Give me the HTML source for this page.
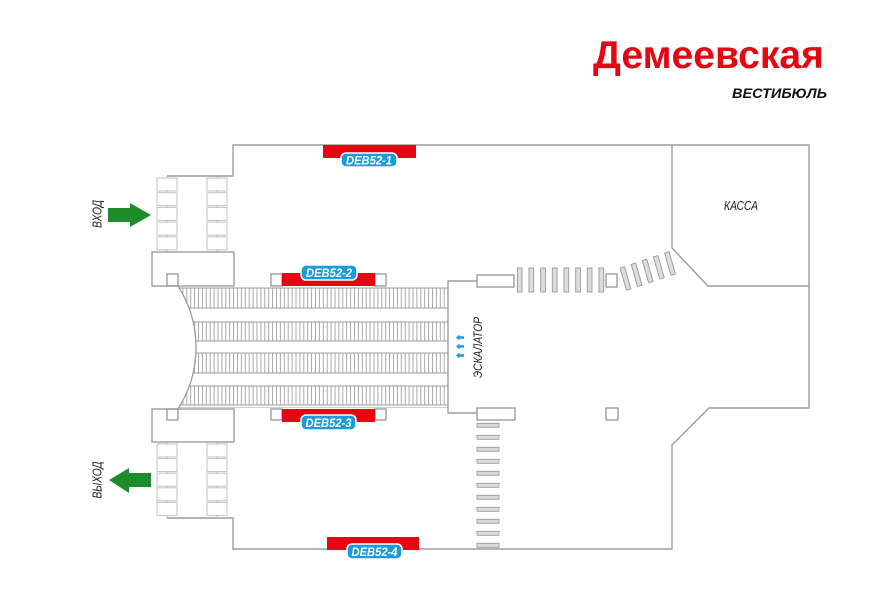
<!DOCTYPE html>
<html><head><meta charset="utf-8"><style>
html,body{margin:0;padding:0;background:#fff;}
svg{display:block;}
</style></head><body>
<svg width="878" height="604" viewBox="0 0 878 604" xmlns="http://www.w3.org/2000/svg">
<defs>
<pattern id="hatch" x="178" y="0" width="3.9" height="10" patternUnits="userSpaceOnUse">
<line x1="1" y1="0" x2="1" y2="10" stroke="#a0a0a0" stroke-width="0.9"/>
</pattern>
<clipPath id="arcclip">
<path d="M178,287 A114,114 0 0 1 178,408 L448,408 L448,287 Z"/>
</clipPath>
</defs>
<rect width="878" height="604" fill="#fff"/>

<!-- Title -->
<text x="593" y="68" font-family="Liberation Sans, sans-serif" font-weight="bold" font-size="39" fill="#e30613" textLength="231" lengthAdjust="spacingAndGlyphs">Демеевская</text>
<text x="732" y="98" font-family="Liberation Sans, sans-serif" font-weight="bold" font-style="italic" font-size="14" fill="#111" textLength="95" lengthAdjust="spacingAndGlyphs">ВЕСТИБЮЛЬ</text>

<g fill="none" stroke="#9c9c9c" stroke-width="1.4">
<path d="M167,176 L233,176 L233,145 L809,145 L809,408 L709,408 L672,445 L672,549 L233,549 L233,518 L167,518"/>
<path d="M672,145 L672,248 L708,286 L809,286"/>
<rect x="152" y="252" width="82" height="34"/>
<rect x="167" y="274" width="11" height="12"/>
<rect x="152" y="409" width="82" height="33"/>
<rect x="167" y="409" width="11" height="11"/>
<path d="M477,281 L448,281 L448,413 L477,413"/>
<rect x="477" y="275" width="37" height="12"/>
<rect x="477" y="408" width="38" height="12"/>
<rect x="606" y="274" width="11" height="13"/>
<rect x="606" y="408" width="12" height="12"/>
<rect x="271" y="274" width="11" height="12"/>
<rect x="375" y="274" width="11" height="12"/>
<rect x="271" y="409" width="11" height="11"/>
<rect x="375" y="409" width="11" height="11"/>
</g>

<g stroke="#b5b5b5" stroke-width="1">
<line x1="167" y1="176" x2="167" y2="252"/>
<line x1="217" y1="176" x2="217" y2="252"/>
<line x1="167" y1="442" x2="167" y2="518"/>
<line x1="217" y1="442" x2="217" y2="518"/>
</g>
<g fill="#fff" stroke="#c2c2c2" stroke-width="1">
<rect x="157" y="178" width="20" height="13"/><rect x="157" y="192.7" width="20" height="13"/><rect x="157" y="207.4" width="20" height="13"/><rect x="157" y="222.1" width="20" height="13"/><rect x="157" y="236.8" width="20" height="13"/>
<rect x="207" y="178" width="20" height="13"/><rect x="207" y="192.7" width="20" height="13"/><rect x="207" y="207.4" width="20" height="13"/><rect x="207" y="222.1" width="20" height="13"/><rect x="207" y="236.8" width="20" height="13"/>
<rect x="157" y="444" width="20" height="13"/><rect x="157" y="458.6" width="20" height="13"/><rect x="157" y="473.2" width="20" height="13"/><rect x="157" y="487.8" width="20" height="13"/><rect x="157" y="502.4" width="20" height="13"/>
<rect x="207" y="444" width="20" height="13"/><rect x="207" y="458.6" width="20" height="13"/><rect x="207" y="473.2" width="20" height="13"/><rect x="207" y="487.8" width="20" height="13"/><rect x="207" y="502.4" width="20" height="13"/>
</g>

<g clip-path="url(#arcclip)">
<rect x="170" y="288" width="277" height="20" fill="url(#hatch)"/>
<rect x="170" y="322" width="277" height="19" fill="url(#hatch)"/>
<rect x="170" y="353" width="277" height="20" fill="url(#hatch)"/>
<rect x="170" y="386" width="277" height="19" fill="url(#hatch)"/>
<g stroke="#9c9c9c" stroke-width="1">
<line x1="170" y1="288" x2="448" y2="288"/>
<line x1="170" y1="308" x2="448" y2="308"/>
<line x1="170" y1="322" x2="448" y2="322"/>
<line x1="170" y1="341" x2="448" y2="341"/>
<line x1="170" y1="353" x2="448" y2="353"/>
<line x1="170" y1="373" x2="448" y2="373"/>
<line x1="170" y1="386" x2="448" y2="386"/>
<line x1="170" y1="405" x2="448" y2="405"/>
<line x1="170" y1="408" x2="448" y2="408"/>
</g>
</g>
<path d="M178,286 A114,114 0 0 1 178,409" fill="none" stroke="#9c9c9c" stroke-width="1.3"/>

<g fill="#dcdcdc" stroke="#999" stroke-width="0.9">
<rect x="517.3" y="268" width="4.7" height="24"/>
<rect x="529" y="268" width="4.7" height="24"/>
<rect x="540.7" y="268" width="4.7" height="24"/>
<rect x="552.3" y="268" width="4.7" height="24"/>
<rect x="564" y="268" width="4.7" height="24"/>
<rect x="575.7" y="268" width="4.7" height="24"/>
<rect x="587.3" y="268" width="4.7" height="24"/>
<rect x="599" y="268" width="4.7" height="24"/>
<rect x="-2.35" y="-11.5" width="4.7" height="23" transform="translate(625.5,278.5) rotate(-16)"/>
<rect x="-2.35" y="-11.5" width="4.7" height="23" transform="translate(636.6,274.8) rotate(-16)"/>
<rect x="-2.35" y="-11.5" width="4.7" height="23" transform="translate(647.7,271) rotate(-16)"/>
<rect x="-2.35" y="-11.5" width="4.7" height="23" transform="translate(658.8,267.3) rotate(-16)"/>
<rect x="-2.35" y="-11.5" width="4.7" height="23" transform="translate(670,263.5) rotate(-16)"/>
<rect x="477" y="423.3" width="22" height="4"/>
<rect x="477" y="435.3" width="22" height="4"/>
<rect x="477" y="447.3" width="22" height="4"/>
<rect x="477" y="459.3" width="22" height="4"/>
<rect x="477" y="471.3" width="22" height="4"/>
<rect x="477" y="483.3" width="22" height="4"/>
<rect x="477" y="495.3" width="22" height="4"/>
<rect x="477" y="507.3" width="22" height="4"/>
<rect x="477" y="519.3" width="22" height="4"/>
<rect x="477" y="531.3" width="22" height="4"/>
<rect x="477" y="543.3" width="22" height="4"/>
</g>

<g fill="#e30613">
<rect x="323" y="145" width="93" height="13"/>
<rect x="282" y="273" width="93" height="13"/>
<rect x="282" y="409" width="93" height="13"/>
<rect x="327" y="537" width="92" height="13"/>
</g>
<g fill="#1d9ad8" stroke="#fff" stroke-width="1.5">
<rect x="341" y="153" width="56" height="14" rx="5"/>
<rect x="301" y="265" width="56" height="15" rx="5"/>
<rect x="301" y="415" width="55" height="15" rx="5"/>
<rect x="347" y="544" width="55" height="15" rx="5"/>
</g>
<g font-family="Liberation Sans, sans-serif" font-weight="bold" font-style="italic" font-size="12" fill="#fff" text-anchor="middle">
<text x="369" y="164.5" textLength="46" lengthAdjust="spacingAndGlyphs">DEB52-1</text>
<text x="329" y="277" textLength="46" lengthAdjust="spacingAndGlyphs">DEB52-2</text>
<text x="328.5" y="427" textLength="46" lengthAdjust="spacingAndGlyphs">DEB52-3</text>
<text x="374.5" y="556" textLength="46" lengthAdjust="spacingAndGlyphs">DEB52-4</text>
</g>

<polygon points="108,208 130,208 130,203 151,215 130,227 130,222 108,222" fill="#1e8c2d"/>
<polygon points="151,473 129,473 129,468 109,480 129,493 129,487 151,487" fill="#1e8c2d"/>
<g font-family="Liberation Sans, sans-serif" font-style="italic" font-size="13" fill="#222" text-anchor="middle">
<text transform="translate(101.5,214) rotate(-90)" textLength="28" lengthAdjust="spacingAndGlyphs">ВХОД</text>
<text transform="translate(101.5,480) rotate(-90)" textLength="37" lengthAdjust="spacingAndGlyphs">ВЫХОД</text>
<text transform="translate(482,347.5) rotate(-90)" font-size="12" textLength="61" lengthAdjust="spacingAndGlyphs">ЭСКАЛАТОР</text>
<text x="741" y="210" textLength="34" lengthAdjust="spacingAndGlyphs">КАССА</text>
</g>

<g fill="#1d9ad8">
<polygon points="456,337.5 459.5,334.5 459.5,336.3 464,336.3 464,338.7 459.5,338.7 459.5,340.5"/>
<polygon points="456,346.5 459.5,343.5 459.5,345.3 464,345.3 464,347.7 459.5,347.7 459.5,349.5"/>
<polygon points="456,355.5 459.5,352.5 459.5,354.3 464,354.3 464,356.7 459.5,356.7 459.5,358.5"/>
</g>
</svg>
</body></html>
